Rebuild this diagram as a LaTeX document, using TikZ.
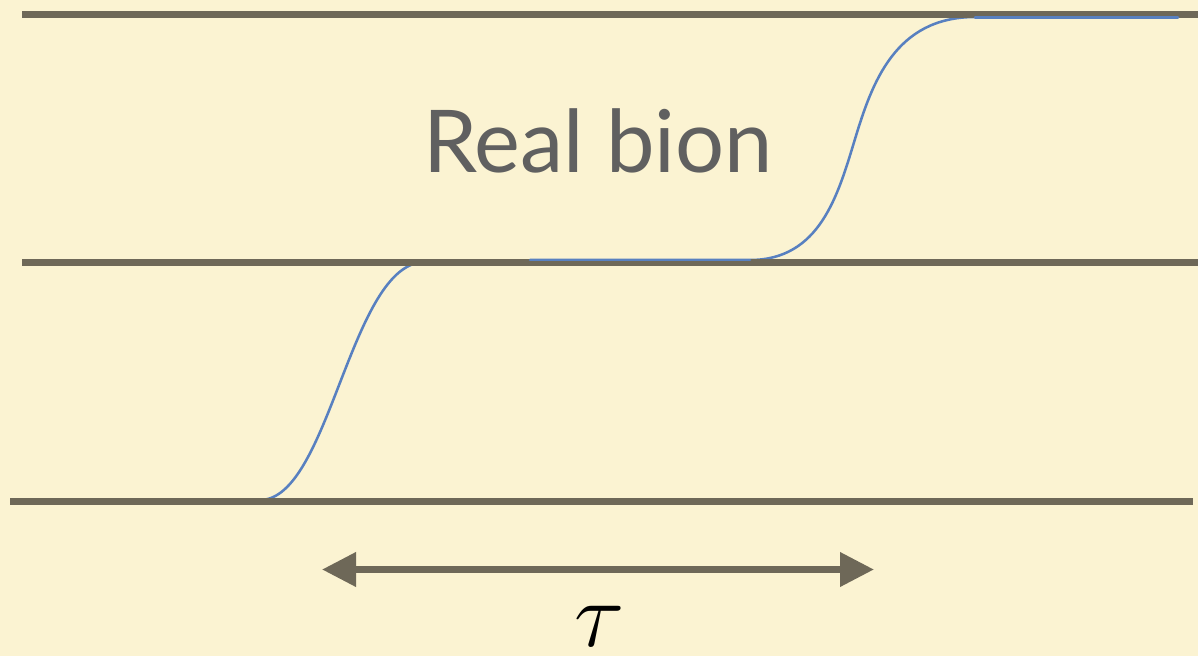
\RequirePackage{fix-cm}
\documentclass[tikz,border=0pt]{standalone}
\usepackage{fontspec}
\newfontfamily\bionfont{Lato}
\usetikzlibrary{arrows.meta}
\definecolor{paper}{RGB}{251,243,210}
\definecolor{vacline}{RGB}{110,104,88}
\definecolor{kinkblue}{RGB}{88,128,192}
\definecolor{labelgray}{RGB}{96,96,96}
\begin{document}
\begin{tikzpicture}[x=0.75pt,y=0.75pt,yscale=-1,xscale=1,
	vacuum/.style={draw=vacline,line width=5.25pt},
	kink/.style={draw=kinkblue,line width=1.9pt,line cap=round}]
		%Background
		\fill [paper] (0,0) rectangle (1198,656) ;
		\useasboundingbox (0,0) rectangle (1198,656) ;
		
		%Curve Lines [lower kink]
		\draw [kink]  (240,500) -- (260,500) .. controls (330,500) and (350,262) .. (425,262) ;
		%Curve Lines [upper kink]
		\draw [kink]  (530,260) -- (750,260) .. controls (820,260) and (838,195) .. (855,139) .. controls (872,83) and (895,17) .. (975,17) -- (1178,17) ;
		
		%Straight Lines [vacua]
		\draw [vacuum]  (22,14.5) -- (1198,14.5) ;
		\draw [vacuum]  (22,262) -- (1198,262) ;
		\draw [vacuum]  (10,501) -- (1193,501) ;
		%redraw blue on top where it runs along the vacua
		\draw [kink]  (530,260) -- (750,260) ;
		\draw [kink]  (975,17.5) -- (1178,17.5) ;
		
		%Straight Lines [duration]
		\coordinate (tauL) at (322,569.5) ;
		\coordinate (tauR) at (874,569.5) ;
		\draw [vacuum,{Triangle[length=25.5pt,width=24.75pt]}-{Triangle[length=25.5pt,width=24.75pt]}]  (tauL) -- (tauR) ;
		
		% Text Node
		\node (bion) at (598,172) [anchor=base,inner sep=0pt,text=labelgray] {\bionfont\fontsize{65}{65}\selectfont Real bion};
		% Text Node
		\node (tau) at (600,646) [anchor=base,inner sep=0pt] {\fontsize{70}{70}\selectfont $\tau$};
		
	\end{tikzpicture}
\end{document}
